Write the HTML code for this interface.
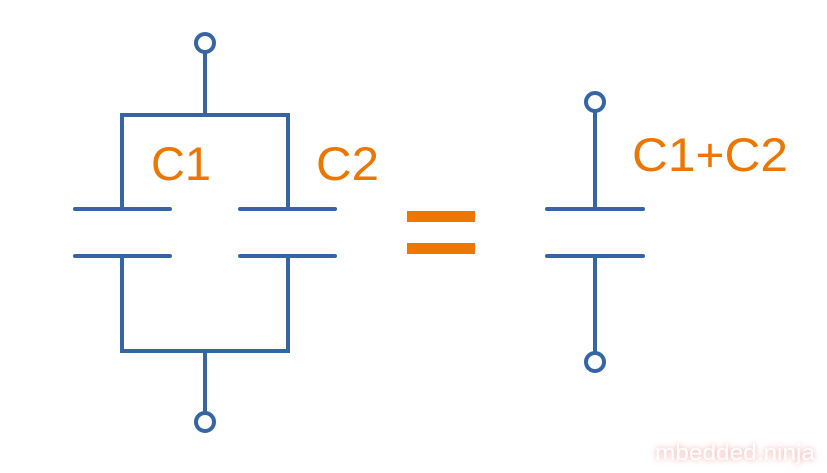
<!DOCTYPE html>
<html><head><meta charset="utf-8"><style>
html,body{margin:0;padding:0;background:#fff;}
svg{display:block;}
text{font-family:"Liberation Sans",Arial,sans-serif;}
</style></head><body>
<svg width="827" height="473" viewBox="0 0 827 473" xmlns="http://www.w3.org/2000/svg">
<g stroke="#3565a5" stroke-width="4" fill="none" stroke-linecap="round">
  <circle cx="205" cy="43" r="9"/>
  <line x1="205" y1="52" x2="205" y2="115"/>
  <polyline points="122,209 122,115 288,115 288,209" stroke-linecap="butt" stroke-linejoin="miter"/>
  <line x1="75" y1="209" x2="170" y2="209"/>
  <line x1="75" y1="256" x2="170" y2="256"/>
  <line x1="240" y1="209" x2="335" y2="209"/>
  <line x1="240" y1="256" x2="335" y2="256"/>
  <polyline points="122,256 122,351 288,351 288,256" stroke-linecap="butt" stroke-linejoin="miter"/>
  <line x1="205" y1="351" x2="205" y2="413"/>
  <circle cx="205" cy="422" r="9"/>

  <circle cx="595" cy="102" r="9"/>
  <line x1="595" y1="111" x2="595" y2="209"/>
  <line x1="547" y1="209" x2="643" y2="209"/>
  <line x1="547" y1="256" x2="643" y2="256"/>
  <line x1="595" y1="256" x2="595" y2="353"/>
  <circle cx="595" cy="362" r="9"/>
</g>
<rect x="407" y="211" width="68" height="11" fill="#ec7600"/>
<rect x="407" y="243" width="68" height="11" fill="#ec7600"/>
<g fill="#ec7600" font-size="47">
  <text x="151" y="180" textLength="60" lengthAdjust="spacingAndGlyphs">C1</text>
  <text x="316" y="180" textLength="63" lengthAdjust="spacingAndGlyphs">C2</text>
  <text x="632" y="171" textLength="156" lengthAdjust="spacingAndGlyphs">C1+C2</text>
</g>
<text x="655" y="460" font-size="22" textLength="160" lengthAdjust="spacingAndGlyphs" fill="#fff" style="filter:drop-shadow(0 0 3px #f4a0a0)">mbedded.ninja</text>
</svg>
</body></html>
